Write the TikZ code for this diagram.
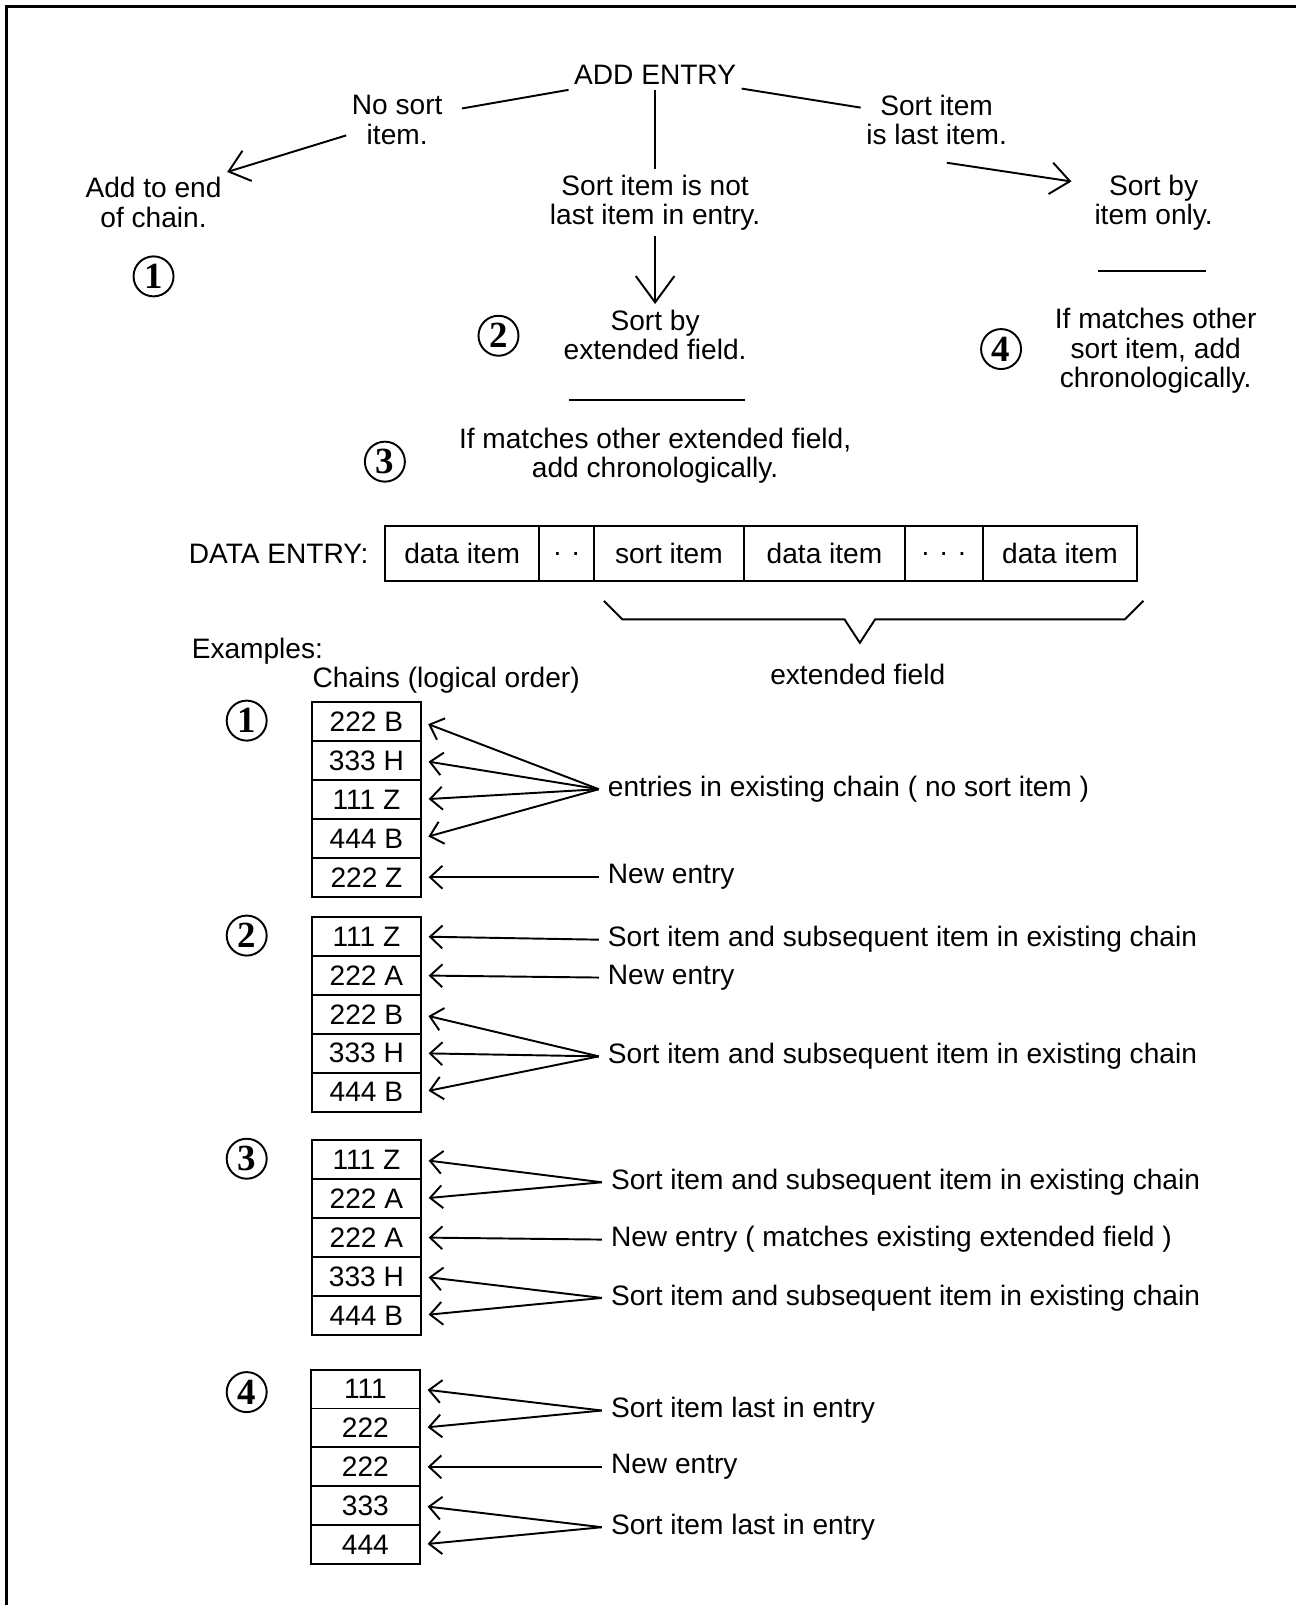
\documentclass[tikz,border=0pt]{standalone}
\usepackage{fontspec}
\setmainfont{Liberation Sans}
\newfontfamily\circfont{Liberation Serif}
\usetikzlibrary{arrows.meta}

\begin{document}
\begin{tikzpicture}[
        x=0.020474cm, y=-0.020474cm,
        every node/.style={font=\fontsize{16}{16.8}\selectfont},
        txt/.style={align=center, inner sep=3pt},
        lbl/.style={anchor=west, inner xsep=5pt, inner ysep=2pt},
        num/.style={draw, circle, line width=1.1pt, minimum size=0.8cm, inner sep=0pt, font={\circfont\bfseries\fontsize{21}{21}\selectfont}},
        cell/.style={draw, rectangle, line width=1.1pt, minimum width=2.17cm, minimum height=0.778cm, inner sep=0pt},
        field/.style={draw, rectangle, line width=1.1pt, minimum height=1.106cm, inner sep=0pt},
        arr/.style={-{Straight Barb[length=7pt, width=13pt]}, line width=1.1pt, shorten >=4pt},
        bigarr/.style={-{Straight Barb[length=11pt, width=18pt]}, line width=1.1pt}
    ]
        \useasboundingbox (0,0) rectangle (1266,1568);
        % Frame
        \draw [line width=1.7pt] (1266,6) -- (6,6) -- (6,1568);

        % Decision tree
        \node (add) [txt] at (640,73) {ADD ENTRY};
        \node (nosort) [txt] at (388,117) {No sort\\item.};
        \node (addend) [txt] at (150,198) {Add to end\\of chain.};
        \node (notlast) [txt] at (640,198) {Sort item is not\\last item in entry.};
        \node (sortby2) [txt] at (640,327) {Sort by\\extended field.};
        \node (match3) [txt] at (640,445) {If matches other extended field,\\add chronologically.};
        \node (sortlast) [txt] at (915,117) {Sort item\\is last item.};
        \node (sortby4) [txt] at (1127,198) {Sort by\\item only.};
        \node (match4) [txt] at (1129,343) {If matches other\\sort item, add\\chronologically.};
        \node (n1) [num] at (150,270) {1};
        \node (n2) [num] at (487,328) {2};
        \node (n3) [num] at (376,451) {3};
        \node (n4) [num] at (978,341) {4};

        \draw [line width=1.1pt, shorten >=8pt] (add) -- (nosort);
        \draw [line width=1.1pt] (add) -- (sortlast);
        \draw [line width=1.1pt] (add) -- (notlast);
        \draw [bigarr] (nosort) -- (addend.north east);
        \draw [bigarr] ([shift={(10,12)}]sortlast.south) -- ([shift={(-17,12)}]sortby4.north west);
        \draw [bigarr, -{Straight Barb[length=15pt, width=22pt]}] (notlast) -- (sortby2);
        \draw [line width=1.1pt] (556,391) -- (728,391);
        \draw [line width=1.1pt] (1073,265) -- (1178,265);

        % Data entry
        \node (dlabel) [anchor=east] at (366,541) {DATA ENTRY:};
        \node (f1) [field, minimum width=3.092cm] at (451.5,541) {data item};
        \node (f2) [field, minimum width=1.085cm] at (553.5,541) {. .};
        \node (f3) [field, minimum width=3.010cm] at (653.5,541) {sort item};
        \node (f4) [field, minimum width=3.214cm] at (805.5,541) {data item};
        \node (f5) [field, minimum width=1.556cm] at (922,541) {. . .};
        \node (f6) [field, minimum width=3.092cm] at (1035.5,541) {data item};
        \draw [line width=1.1pt] (1117,587) -- (1099,605) -- (855,605) -- (840,628) -- (825,605) -- (608,605) -- (590,587);
        \node (ext) at (838,659) {extended field};

        \node (examples) [anchor=west, inner sep=0pt] at (187,636) {Examples:};
        \node (chains) [anchor=west, inner sep=0pt] at (305,665) {Chains (logical order)};

        % Example 1
        \node (m1) [num] at (241,704) {1};
        \node (c11) [cell] at (358,705) {222 B};
        \node (c12) [cell] at (358,743) {333 H};
        \node (c13) [cell] at (358,781) {111 Z};
        \node (c14) [cell] at (358,819) {444 B};
        \node (c15) [cell] at (358,857) {222 Z};
        \node (l1a) [lbl] at (585,771) {entries in existing chain ( no sort item )};
        \node (l1b) [lbl] at (585,857) {New entry};
        \draw [arr] (l1a.west) -- (c11.east);
        \draw [arr] (l1a.west) -- (c12.east);
        \draw [arr] (l1a.west) -- (c13.east);
        \draw [arr] (l1a.west) -- (c14.east);
        \draw [arr] (l1b.west) -- (c15.east);

        % Example 2
        \node (m2) [num] at (241,914) {2};
        \node (c21) [cell] at (358,915) {111 Z};
        \node (c22) [cell] at (358,953) {222 A};
        \node (c23) [cell] at (358,991) {222 B};
        \node (c24) [cell] at (358,1029) {333 H};
        \node (c25) [cell] at (358,1067) {444 B};
        \node (l2a) [lbl] at (585,918) {Sort item and subsequent item in existing chain};
        \node (l2b) [lbl] at (585,955) {New entry};
        \node (l2c) [lbl] at (585,1032) {Sort item and subsequent item in existing chain};
        \draw [arr] (l2a.west) -- (c21.east);
        \draw [arr] (l2b.west) -- (c22.east);
        \draw [arr] (l2c.west) -- (c23.east);
        \draw [arr] (l2c.west) -- (c24.east);
        \draw [arr] (l2c.west) -- (c25.east);

        % Example 3
        \node (m3) [num] at (241,1132) {3};
        \node (c31) [cell] at (358,1133) {111 Z};
        \node (c32) [cell] at (358,1171) {222 A};
        \node (c33) [cell] at (358,1209) {222 A};
        \node (c34) [cell] at (358,1247) {333 H};
        \node (c35) [cell] at (358,1285) {444 B};
        \node (l3a) [lbl] at (588,1155) {Sort item and subsequent item in existing chain};
        \node (l3b) [lbl] at (588,1211) {New entry ( matches existing extended field )};
        \node (l3c) [lbl] at (588,1268) {Sort item and subsequent item in existing chain};
        \draw [arr] (l3a.west) -- (c31.east);
        \draw [arr] (l3a.west) -- (c32.east);
        \draw [arr] (l3b.west) -- (c33.east);
        \draw [arr] (l3c.west) -- (c34.east);
        \draw [arr] (l3c.west) -- (c35.east);

        % Example 4
        \node (m4) [num] at (241,1360) {4};
        \node (c41) [cell] at (357,1357) {111};
        \node (c42) [cell] at (357,1395) {222};
        \node (c43) [cell] at (357,1433) {222};
        \node (c44) [cell] at (357,1471) {333};
        \node (c45) [cell] at (357,1509) {444};
        \node (l4a) [lbl] at (588,1378) {Sort item last in entry};
        \node (l4b) [lbl] at (588,1433) {New entry};
        \node (l4c) [lbl] at (588,1492) {Sort item last in entry};
        \draw [arr] (l4a.west) -- (c41.east);
        \draw [arr] (l4a.west) -- (c42.east);
        \draw [arr] (l4b.west) -- (c43.east);
        \draw [arr] (l4c.west) -- (c44.east);
        \draw [arr] (l4c.west) -- (c45.east);
\end{tikzpicture}
\end{document}
